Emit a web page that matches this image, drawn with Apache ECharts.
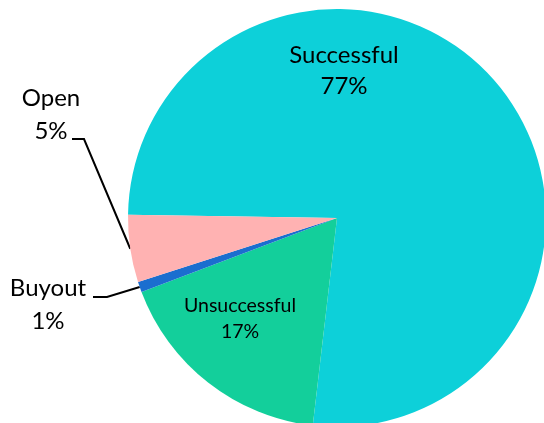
<!DOCTYPE html>
<html><head><meta charset="utf-8">
<script src="https://cdn.jsdelivr.net/npm/echarts@6/dist/echarts.min.js"></script>
<style>html,body{margin:0;padding:0;background:#fff}#c{width:544px;height:423px}</style>
</head><body><div id="c"></div>
<script>
// ---- data ----
const categories = ['Successful', 'Unsuccessful', 'Buyout', 'Open'];
const shares = [76.6, 17.4, 0.8, 5.2];

// ---- styles / layout ----
const colors = ['#0DD0D9', '#13CF9B', '#1B6ECF', '#FFB2B2'];
const labelCenters = { Successful: [344, 71], Unsuccessful: [240, 319], Buyout: [48, 305], Open: [51, 115] };
const labelFont = { Successful: [24, 31], Unsuccessful: [19.5, 26], Buyout: [24, 33], Open: [24, 33] };
const leader = { Buyout: { bend: [59, -8], end: [45, -8] }, Open: { bend: [33, 24], end: [21, 24] } };

const chart = echarts.init(document.getElementById('c'), null, { renderer: 'canvas' });
const data = categories.map((name, i) => ({
  name: name,
  value: shares[i],
  itemStyle: { color: colors[i] },
  label: {
    position: leader[name] ? 'outside' : 'inside',
    fontSize: labelFont[name][0],
    lineHeight: labelFont[name][1]
  },
  labelLine: { show: !!leader[name] }
}));

chart.setOption({
  animation: false,
  series: [{
    type: 'pie',
    center: [337, 218],
    radius: 209,
    startAngle: 179.1,
    clockwise: true,
    avoidLabelOverlap: false,
    percentPrecision: 0,
    itemStyle: { borderWidth: 0 },
    emphasis: { disabled: true },
    label: {
      show: true,
      formatter: '{b}\n{d}%',
      color: '#000',
      fontFamily: 'Lato',
      align: 'center'
    },
    labelLine: { lineStyle: { color: '#000', width: 2 }, length: 20, length2: 10 },
    labelLayout: function (p) {
      const name = categories[p.dataIndex];
      const c = labelCenters[name];
      const res = { x: c[0], y: c[1], align: 'center', verticalAlign: 'middle' };
      const o = leader[name];
      if (o && p.labelLinePoints) {
        res.labelLinePoints = [
          p.labelLinePoints[0],
          [c[0] + o.bend[0], c[1] + o.bend[1]],
          [c[0] + o.end[0], c[1] + o.end[1]]
        ];
      }
      return res;
    },
    data: data
  }]
});
</script>
</body></html>
